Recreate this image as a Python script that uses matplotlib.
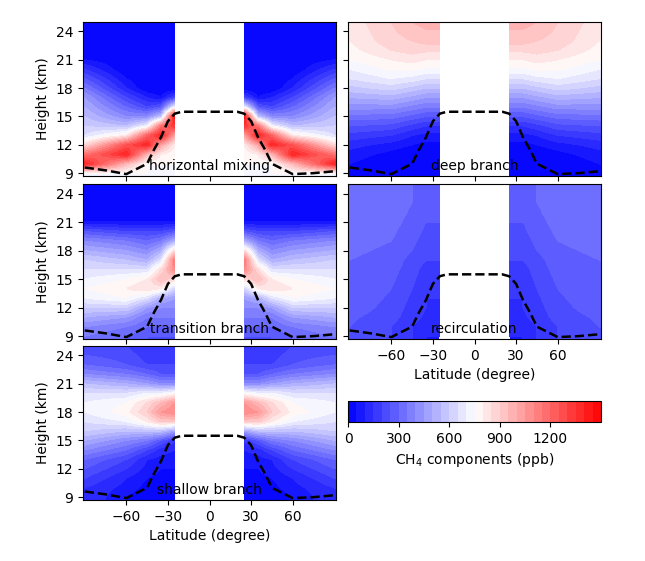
import numpy as np
import matplotlib
matplotlib.use("Agg")
import matplotlib.pyplot as plt

heights = [9,10,11,12,13,14,15,16,17,18,19,20,21,22,23,25]
lat_half = [-90,-60,-45,-35,-25]

hm = [[750,1400,1150,850,650,600,550,500,450,350,250,150,50,0,0,0],
      [750,950,1400,1250,800,550,400,300,200,100,50,0,0,0,0,0],
      [750,750,950,1400,1200,700,400,200,100,0,0,0,0,0,0,0],
      [750,750,800,1000,1400,1150,550,250,50,0,0,0,0,0,0,0],
      [750,750,750,800,1000,1350,1450,700,200,0,0,0,0,0,0,0]]
deep = [[50,50,80,120,180,250,330,420,500,580,650,700,750,780,800,820],
        [0,0,30,80,150,230,320,420,520,620,700,760,800,850,880,900],
        [0,0,0,50,100,180,280,380,480,580,680,760,820,870,900,950],
        [0,0,0,30,80,150,250,350,450,550,650,740,800,860,920,970],
        [0,0,0,30,80,150,250,350,450,550,650,740,800,860,920,970]]
trans = [[350,400,500,600,700,750,700,650,600,500,400,250,50,0,0,0],
         [300,350,450,600,750,800,750,650,550,450,350,200,50,0,0,0],
         [250,300,350,450,650,850,800,650,500,400,300,200,50,0,0,0],
         [250,300,350,400,500,800,950,850,650,500,350,200,50,0,0,0],
         [250,300,350,400,450,600,850,1100,1150,850,500,250,50,0,0,0]]
recirc = [[250,250,260,280,290,300,300,300,300,310,320,330,340,350,350,350],
          [200,200,220,230,240,250,260,270,280,290,300,310,320,330,330,330],
          [150,150,170,180,190,200,210,220,230,250,260,270,280,290,300,300],
          [100,120,140,150,150,160,170,180,200,220,230,240,250,260,270,280],
          [100,120,140,150,150,160,170,180,200,220,230,240,250,260,270,280]]
shallow = [[150,150,200,250,300,400,500,600,650,700,700,650,550,400,300,200],
           [50,80,100,150,200,300,400,550,700,780,750,650,500,350,250,200],
           [0,30,50,80,100,200,350,550,800,900,850,700,450,300,200,150],
           [0,0,30,50,80,120,250,550,900,1050,950,700,400,250,200,150],
           [0,0,30,50,80,100,150,450,900,1100,1050,750,400,250,200,150]]

trop_lat = [-90,-75,-60,-45,-40,-35,-30,-25,-20,0,20,25,30,35,40,45,60,75,90]
trop_h = [9.6,9.3,8.9,10.0,11.5,12.8,14.5,15.3,15.5,15.5,15.5,15.3,14.5,12.8,11.5,10.0,8.9,9.0,9.2]

names = ["horizontal mixing","deep branch","transition branch","recirculation","shallow branch"]
fields = [hm, deep, trans, recirc, shallow]

lat_full = lat_half + [-l for l in lat_half[::-1]]
xf = np.linspace(-91.25, 91.25, 300)
yf = np.linspace(8.6, 25, 200)

def refine(tab):
    t = np.array(tab, float)
    full = np.vstack([t, t[::-1]])
    a = np.array([np.interp(yf, heights, full[i]) for i in range(full.shape[0])])
    b = np.array([np.interp(xf, lat_full, a[:, j]) for j in range(len(yf))])
    X, Y = np.meshgrid(xf, yf)
    return np.ma.masked_where(np.abs(X) < 25, b)

fig = plt.figure(figsize=(6.45, 5.61), dpi=100)
W, H = 645, 561
def ax_at(x0, x1, y0, y1):
    return fig.add_axes([x0/W, 1-y1/H, (x1-x0)/W, (y1-y0)/H])

boxes = [(83,336,22,176),(348,601,22,176),(83,336,184,339),(348,601,184,339),(83,336,346,500)]
levels = np.arange(0, 1501, 50)
for i,(box,f,n) in enumerate(zip(boxes, fields, names)):
    ax = ax_at(*box)
    cf = ax.contourf(xf, yf, np.clip(refine(f), 0, 1499), levels=levels, cmap="bwr")
    ax.plot(trop_lat, trop_h, "k--", lw=1.8)
    ax.set_xlim(-91.25, 91.25); ax.set_ylim(8.7, 25)
    ax.set_yticks([9,12,15,18,21,24]); ax.set_xticks([-60,-30,0,30,60])
    ax.text(0, 9.0, n, ha="center", va="bottom", fontsize=10)
    if i % 2 == 0:
        ax.set_ylabel("Height (km)")
    else:
        ax.set_yticklabels([])
    if i in (3, 4):
        ax.set_xlabel("Latitude (degree)")
    else:
        ax.set_xticklabels([])

cax = ax_at(348, 601, 401, 422)
cb = fig.colorbar(cf, cax=cax, orientation="horizontal", ticks=[0,300,600,900,1200])
cb.set_label("CH$_4$ components (ppb)")
fig.savefig("out.png", dpi=100)
